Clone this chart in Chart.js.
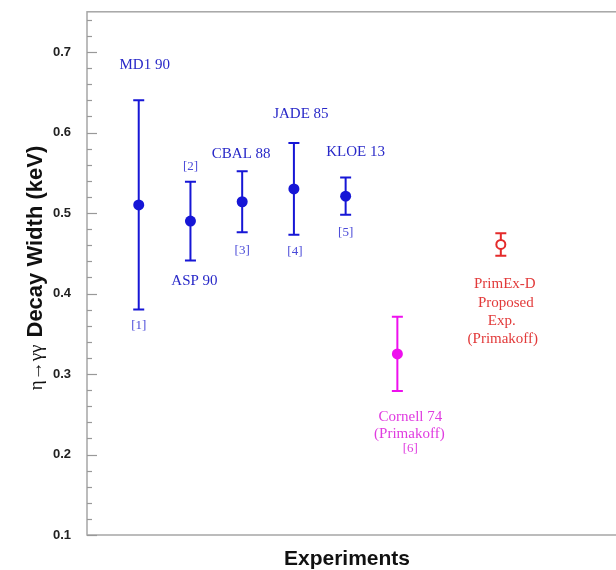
<!DOCTYPE html>
<html>
<head>
<meta charset="utf-8">
<script src="https://cdn.jsdelivr.net/npm/chart.js@4.4.0/dist/chart.umd.min.js"></script>
<style>
    html, body { margin: 0; padding: 0; background: #fff; }
    #wrap { width: 616px; height: 570px; overflow: hidden; }
    canvas { display: block; margin-top: -12px; }
</style>
</head>
<body>
<div id="wrap"><canvas id="chart" width="670" height="582"></canvas></div>
<script>
// values
const experiments = ['MD1 90', 'ASP 90', 'CBAL 88', 'JADE 85', 'KLOE 13', 'Cornell 74', 'PrimEx-D']
const refs = ['[1]', '[2]', '[3]', '[4]', '[5]', '[6]', '']
const xPos = [1, 2, 3, 4, 5, 6, 8]
const widths = [0.510, 0.490, 0.514, 0.530, 0.521, 0.325, 0.461]
const errors = [0.130, 0.049, 0.038, 0.057, 0.023, 0.046, 0.014]
const yTicks = [0.1, 0.2, 0.3, 0.4, 0.5, 0.6, 0.7]
const yMinorStep = 0.02

// styles
const BLUE = '#1616d6'
const MAGENTA = '#ee10ee'
const RED = '#e42a2a'
const colors = [BLUE, BLUE, BLUE, BLUE, BLUE, MAGENTA, RED]
const isOpen = [false, false, false, false, false, false, true]
const SERIF = "'Liberation Serif', 'Times New Roman', serif"
const SANS = "'Liberation Sans', Arial, sans-serif"
const SHIFT = 12 // canvas is pulled up by this much (see css)

// text next to each point, offset in pixels from the point centre
const notes = [
    { i: 0, dx: 6, dy: -140, text: experiments[0], size: 15, color: '#2828c8' },
    { i: 0, dx: 0, dy: 121, text: refs[0], size: 13, color: '#4a4ad8' },
    { i: 1, dx: 4, dy: 60, text: experiments[1], size: 15, color: '#2828c8' },
    { i: 1, dx: 0, dy: -55, text: refs[1], size: 13, color: '#4a4ad8' },
    { i: 2, dx: -1, dy: -48, text: experiments[2], size: 15, color: '#2828c8' },
    { i: 2, dx: 0, dy: 49, text: refs[2], size: 13, color: '#4a4ad8' },
    { i: 3, dx: 7, dy: -75, text: experiments[3], size: 15, color: '#2828c8' },
    { i: 3, dx: 1, dy: 63, text: refs[3], size: 13, color: '#4a4ad8' },
    { i: 4, dx: 10, dy: -44, text: experiments[4], size: 15, color: '#2828c8' },
    { i: 4, dx: 0, dy: 36, text: refs[4], size: 13, color: '#4a4ad8' },
    { i: 5, dx: 13, dy: 63, text: experiments[5], size: 15, color: '#e03ce0' },
    { i: 5, dx: 12, dy: 80, text: '(Primakoff)', size: 15, color: '#e03ce0' },
    { i: 5, dx: 13, dy: 95, text: refs[5], size: 13, color: '#e03ce0' },
    { i: 6, dx: 4, dy: 40, text: experiments[6], size: 15, color: '#e23a3a' },
    { i: 6, dx: 5, dy: 59, text: 'Proposed', size: 15, color: '#e23a3a' },
    { i: 6, dx: 1, dy: 77, text: 'Exp.', size: 15, color: '#e23a3a' },
    { i: 6, dx: 2, dy: 95, text: '(Primakoff)', size: 15, color: '#e23a3a' },
]

// error bars, drawn under the points
const errorBars = {
    id: 'errorBars',
    beforeDatasetsDraw(chart) {
        const ctx = chart.ctx
        const x = chart.scales.x
        const y = chart.scales.y
        ctx.save()
        ctx.lineWidth = 2
        widths.forEach(function (w, i) {
            const px = x.getPixelForValue(xPos[i])
            const top = y.getPixelForValue(w + errors[i])
            const bot = y.getPixelForValue(w - errors[i])
            ctx.strokeStyle = colors[i]
            ctx.beginPath()
            ctx.moveTo(px, top)
            ctx.lineTo(px, bot)
            ctx.moveTo(px - 5.5, top)
            ctx.lineTo(px + 5.5, top)
            ctx.moveTo(px - 5.5, bot)
            ctx.lineTo(px + 5.5, bot)
            ctx.stroke()
        })
        ctx.restore()
    }
}

// frame, inward tick marks, titles and point notes
const decorations = {
    id: 'decorations',
    afterDraw(chart) {
        const ctx = chart.ctx
        const area = chart.chartArea
        const x = chart.scales.x
        const y = chart.scales.y
        ctx.save()

        ctx.strokeStyle = '#a6a6a6'
        ctx.lineWidth = 1.5
        ctx.strokeRect(area.left, area.top, area.right - area.left, area.bottom - area.top)

        ctx.strokeStyle = '#999'
        ctx.lineWidth = 1.2
        for (let v = y.min; v < y.max + 1e-9; v += yMinorStep) {
            const major = Math.abs(v * 10 - Math.round(v * 10)) < 1e-6
            const py = Math.round(y.getPixelForValue(v)) + 0.5
            ctx.beginPath()
            ctx.moveTo(area.left, py)
            ctx.lineTo(area.left + (major ? 10 : 5), py)
            ctx.stroke()
        }

        // y title: serif symbol part + bold sans part
        ctx.save()
        ctx.fillStyle = '#111'
        ctx.textBaseline = 'alphabetic'
        ctx.textAlign = 'left'
        const symbol = 'η→γγ'
        const label = 'Decay Width (keV)'
        ctx.font = '19px ' + SERIF
        const w1 = ctx.measureText(symbol).width
        ctx.font = 'bold 22px ' + SANS
        const w2 = ctx.measureText(label).width
        const gap = 7
        const total = w1 + gap + w2
        const midY = 268 + SHIFT
        ctx.translate(42, midY + total / 2)
        ctx.rotate(-Math.PI / 2)
        ctx.font = '19px ' + SERIF
        ctx.fillText(symbol, 0, 0)
        ctx.font = 'bold 22px ' + SANS
        ctx.fillText(label, w1 + gap, 0)
        ctx.restore()

        // x title
        ctx.fillStyle = '#111'
        ctx.font = 'bold 21px ' + SANS
        ctx.textAlign = 'center'
        ctx.textBaseline = 'alphabetic'
        ctx.fillText('Experiments', 347, 565 + SHIFT)

        // notes
        ctx.textBaseline = 'middle'
        notes.forEach(function (n) {
            const px = x.getPixelForValue(xPos[n.i])
            const py = y.getPixelForValue(widths[n.i])
            ctx.font = n.size + 'px ' + SERIF
            ctx.fillStyle = n.color
            ctx.fillText(n.text, px + n.dx, py + n.dy)
        })
        ctx.restore()
    }
}

new Chart(document.getElementById('chart'), {
    type: 'scatter',
    data: {
        labels: experiments,
        datasets: [
            {
                label: 'Decay width',
                data: xPos.map(function (v, i) { return { x: v, y: widths[i] } }),
                pointRadius: isOpen.map(function (o) { return o ? 4.5 : 5.5 }),
                pointBackgroundColor: colors.map(function (c, i) { return isOpen[i] ? '#fff' : c }),
                pointBorderColor: colors,
                pointBorderWidth: isOpen.map(function (o) { return o ? 2 : 0 }),
                showLine: false
            }
        ]
    },
    options: {
        responsive: false,
        animation: false,
        layout: {
            padding: { top: 0, right: 14, bottom: 0, left: 0 }
        },
        plugins: {
            legend: { display: false },
            tooltip: { enabled: false }
        },
        scales: {
            x: {
                type: 'linear',
                min: 0,
                max: 11,
                grid: { display: false, drawTicks: false },
                border: { display: false },
                ticks: { display: false },
                afterFit: function (s) { s.height = 35 }
            },
            y: {
                min: 0.1,
                max: 0.75,
                grid: { display: false, drawTicks: false },
                border: { display: false },
                afterBuildTicks: function (s) {
                    s.ticks = yTicks.map(function (v) { return { value: v } })
                },
                ticks: {
                    padding: 16,
                    color: '#222',
                    font: { family: SANS, size: 13, weight: 'bold' },
                    callback: function (v) { return v.toFixed(1) }
                },
                afterFit: function (s) { s.width = 87 }
            }
        }
    },
    plugins: [errorBars, decorations]
});
</script>
</body>
</html>
